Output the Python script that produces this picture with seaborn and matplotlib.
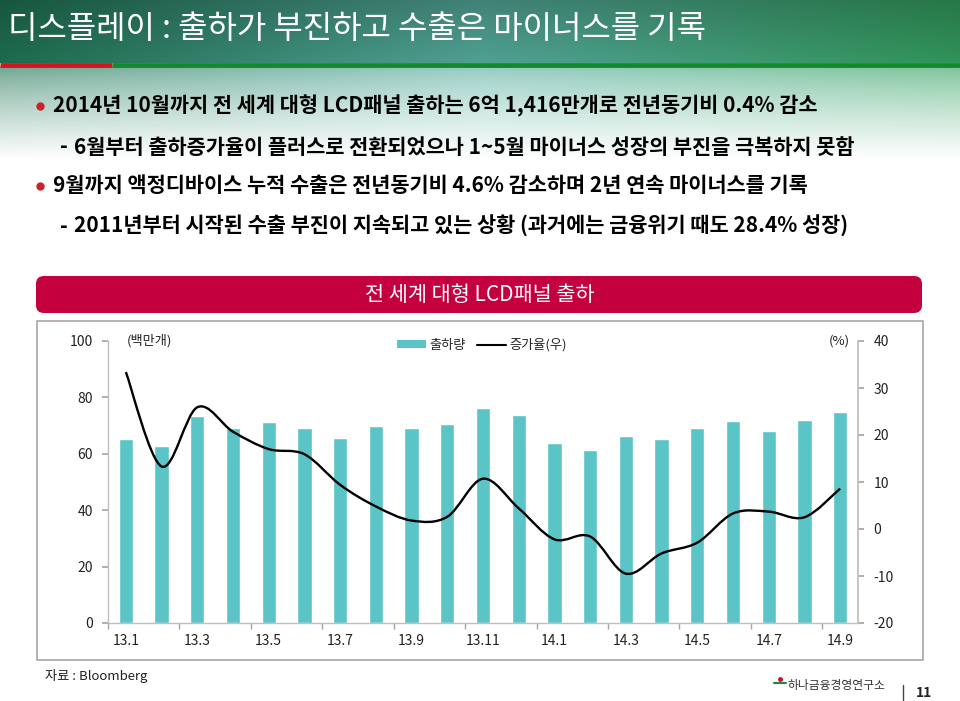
"""
전 세계 대형 LCD패널 출하 - 출하량(막대) / 증가율(선, 우축)
"""

import numpy as np
import pandas as pd
import seaborn as sns
import matplotlib.pyplot as plt
from matplotlib.path import Path
from matplotlib.patches import PathPatch, Patch, Rectangle, FancyBboxPatch
from matplotlib.lines import Line2D

sns.set_theme(style="white")
plt.rcParams['font.family'] = ['Noto Sans CJK KR', 'DejaVu Sans']
plt.rcParams['axes.unicode_minus'] = False

# 데이터
months = ['13.1', '13.2', '13.3', '13.4', '13.5', '13.6', '13.7', '13.8', '13.9', '13.10', '13.11',
          '13.12', '14.1', '14.2', '14.3', '14.4', '14.5', '14.6', '14.7', '14.8', '14.9']
shipments = [65.4, 62.6, 73.5, 69.0, 71.3, 69.3, 65.7, 70.0, 69.1, 70.6, 76.3,
             73.6, 64.0, 61.5, 66.4, 65.2, 69.3, 71.7, 68.2, 72.0, 75.0]
growth = [33.4, 13.3, 25.9, 20.7, 17.0, 15.9, 9.4, 4.8, 1.8, 2.6, 10.7,
          4.4, -2.2, -1.6, -9.5, -5.2, -2.9, 3.3, 3.7, 2.5, 8.6]
left_ticks = [0, 20, 40, 60, 80, 100]
right_ticks = [-20, -10, 0, 10, 20, 30, 40]

title = '디스플레이 : 출하가 부진하고 수출은 마이너스를 기록'
bullets = [
    ('dot', '2014년 10월까지 전 세계 대형 LCD패널 출하는 6억 1,416만개로 전년동기비 0.4% 감소'),
    ('dash', '6월부터 출하증가율이 플러스로 전환되었으나 1~5월 마이너스 성장의 부진을 극복하지 못함'),
    ('dot', '9월까지 액정디바이스 누적 수출은 전년동기비 4.6% 감소하며 2년 연속 마이너스를 기록'),
    ('dash', '2011년부터 시작된 수출 부진이 지속되고 있는 상황 (과거에는 금융위기 때도 28.4% 성장)'),
]

BAR = '#5BC4C6'
W, H = 960, 701

fig = plt.figure(figsize=(W / 100, H / 100), dpi=100)

# 배경 (픽셀 좌표)
bg = fig.add_axes([0, 0, 1, 1])
bg.set_xlim(0, W)
bg.set_ylim(H, 0)
bg.axis('off')

# 상단 녹색 헤더 그라데이션
gx = np.linspace(0, 1, 300)
c_left = np.array([0.11, 0.40, 0.29])
c_mid = np.array([0.30, 0.60, 0.55])
c_right = np.array([0.18, 0.55, 0.33])
row = np.where(gx[:, None] < 0.5,
               c_left + (c_mid - c_left) * (gx[:, None] / 0.5),
               c_mid + (c_right - c_mid) * ((gx[:, None] - 0.5) / 0.5))
gy = np.linspace(0, 1, 40)[:, None, None]
head = row[None, :, :] * (0.85 + 0.2 * gy)
bg.imshow(np.clip(head, 0, 1), extent=(0, W, 63, 0), aspect='auto', zorder=0)

# 헤더 아래 옅은 그라데이션
fy = np.linspace(0, 1, 60)[:, None, None]
base = row[None, :, :] * 1.15
fade = base + (1 - base) * (0.35 + 0.65 * fy ** 0.8)
bg.imshow(np.clip(fade, 0, 1), extent=(0, W, 160, 66), aspect='auto', zorder=0)

bg.plot([0, 112], [65, 65], color='#D7141E', lw=3.5, solid_capstyle='butt', zorder=1)
bg.plot([112, W], [65, 65], color='#128A2A', lw=3.5, solid_capstyle='butt', zorder=1)

bg.text(8, 29, title, color='white', fontsize=23, va='center', ha='left', fontweight='medium')

# 본문 글머리
ys = [106, 147, 186, 226]
for (kind, txt), y in zip(bullets, ys):
    if kind == 'dot':
        bg.plot(40, y, 'o', color='#D0202E', ms=5, zorder=2)
        bg.text(53, y, txt, fontsize=15, va='center', ha='left', color='black', fontweight='bold')
    else:
        bg.text(60, y, '-', fontsize=15, va='center', ha='left', color='black', fontweight='bold')
        bg.text(74, y, txt, fontsize=15, va='center', ha='left', color='black', fontweight='bold')

# 차트 제목 배너
bg.add_patch(FancyBboxPatch((36, 276), 886, 37, boxstyle='round,pad=0,rounding_size=8',
                            facecolor='#C5003E', edgecolor='none'))
bg.text(480, 295, '전 세계 대형 LCD패널 출하', color='white', fontsize=15, ha='center', va='center')

# 차트 테두리
bg.add_patch(Rectangle((37, 321), 886, 339, fill=False, edgecolor='#A6A6A6', lw=1.2))

bg.text(127, 341, '(백만개)', fontsize=9.5, ha='left', va='center', color='#222222')
bg.text(850, 341, '(%)', fontsize=9.5, ha='right', va='center', color='#222222')
bg.text(45, 676, '자료 : Bloomberg', fontsize=9.5, ha='left', va='center', color='#222222')
bg.text(788, 686, '하나금융경영연구소', fontsize=8.5, ha='left', va='center', color='#333333')
bg.plot(780, 679, marker='o', color='#C8102E', ms=2.5)
bg.plot([774, 786], [683, 683], color='#1E8A3A', lw=1.5)
bg.plot([903, 903], [685, 700], color='#444444', lw=1)
bg.text(916, 693, '11', fontsize=10, fontweight='bold', ha='left', va='center', color='#222222')

# 메인 차트
ax = fig.add_axes([108 / W, 78 / H, 750 / W, 282 / H])
df = pd.DataFrame({'month': months, 'shipments': shipments})
sns.barplot(data=df, x='month', y='shipments', color=BAR, width=0.4, saturation=1, ax=ax)
ax.set_xlim(-0.5, len(months) - 0.5)
ax.set_ylim(0, 100)
ax.set_yticks(left_ticks)
ax.set_xticks(range(0, len(months), 2))
ax.set_xticklabels(months[::2])
ax.set_xticks(np.arange(-0.5, len(months), 2), minor=True)
ax.tick_params(axis='x', which='major', length=0, pad=8, labelsize=10, labelcolor='#222222')
ax.tick_params(axis='x', which='minor', length=4, color='#A6A6A6', direction='out', bottom=True)
ax.tick_params(axis='y', length=4, color='#A6A6A6', direction='out', left=True, pad=7,
               labelsize=10, labelcolor='#222222')
ax.set_xlabel('')
ax.set_ylabel('')
ax.patch.set_alpha(0)
for side in ['top', 'right']:
    ax.spines[side].set_visible(False)
for side in ['left', 'bottom']:
    ax.spines[side].set_color('#BFBFBF')
    ax.spines[side].set_linewidth(1)

# 증가율(우축) - 부드러운 곡선
ax2 = ax.twinx()
ax2.set_ylim(-20, 40)
ax2.set_yticks(right_ticks)
ax2.tick_params(axis='y', length=4, color='#A6A6A6', direction='out', right=True, pad=7,
                labelsize=10, labelcolor='#222222')
for side in ['top', 'left', 'bottom']:
    ax2.spines[side].set_visible(False)
ax2.spines['right'].set_color('#BFBFBF')
ax2.grid(False)

pts = np.column_stack([np.arange(len(growth)), growth]).astype(float)
n = len(pts)
verts = [pts[0]]
codes = [Path.MOVETO]
for i in range(n - 1):
    p0 = pts[max(i - 1, 0)]
    p1 = pts[i]
    p2 = pts[i + 1]
    p3 = pts[min(i + 2, n - 1)]
    verts += [p1 + (p2 - p0) / 6, p2 - (p3 - p1) / 6, p2]
    codes += [Path.CURVE4] * 3
ax2.add_patch(PathPatch(Path(verts, codes), fill=False, edgecolor='black', lw=1.7))

handles = [Patch(facecolor=BAR, edgecolor='none'), Line2D([], [], color='black', lw=1.5)]
fig.legend(handles, ['출하량', '증가율(우)'], loc='center', bbox_to_anchor=(482 / W, 1 - 345 / H),
           ncol=2, frameon=False, fontsize=9.5, handlelength=2.2, handleheight=0.5,
           handletextpad=0.3, columnspacing=0.8)

plt.savefig('out.png', dpi=100)
